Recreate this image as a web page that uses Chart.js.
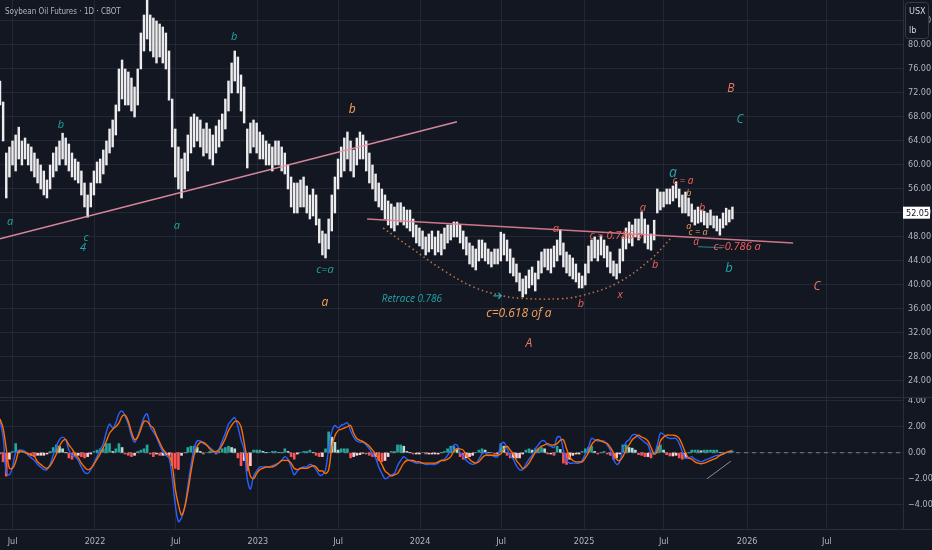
<!DOCTYPE html>
<html>
<head>
<meta charset="utf-8">
<script src="https://cdn.jsdelivr.net/npm/chart.js@4.4.1/dist/chart.umd.min.js"></script>
<style>
  html, body { margin: 0; padding: 0; background: #131722; }
  #wrap { position: relative; width: 932px; height: 550px; }
  #priceBox { position: absolute; left: 0; top: 0; width: 932px; height: 397px; }
  #macdBox { position: absolute; left: 0; top: 397px; width: 932px; height: 153px; }
</style>
</head>
<body>
<div id="wrap">
  <div id="priceBox"><canvas id="priceChart"></canvas></div>
  <div id="macdBox"><canvas id="macdChart"></canvas></div>
</div>
<script>
// ===== DATA (weekly ranges, week 0 = early Jun 2021) =====
const weekLow = [
  70, 64, 54.5, 58, 60, 59, 61, 60, 61, 60,
  59, 58, 57, 56, 55, 54.5, 56, 58, 59, 60,
  61, 60, 59, 58, 57.5, 57, 55, 53, 51.3, 53,
  55, 57, 57, 58.5, 60, 62, 63, 65, 69, 71,
  70, 70, 69, 68, 70, 76, 79, 81, 79, 78,
  77, 78, 77, 76, 70.8, 63, 58, 56, 54.5, 56,
  59, 62, 63, 64, 63, 61.5, 62, 61, 60, 62,
  63, 64, 66, 69, 72, 74, 72, 69, 67, 59.5,
  62, 63, 62, 61, 61, 60, 60, 59, 60, 60,
  59, 58.5, 56, 53, 52, 52, 53, 53, 52, 51,
  51.5, 50, 47, 45, 44.5, 46, 49, 52, 56, 58,
  59, 61, 59, 58, 60, 61, 61, 59, 57, 56,
  54, 53, 52.5, 51, 50, 49.5, 49, 50, 50.5, 50,
  49.5, 49, 48, 47, 46.5, 46, 45, 45.5, 46, 45,
  45.5, 45, 46, 47, 47.5, 48, 48, 47, 46, 45,
  43.5, 43, 42.5, 44, 44.5, 44, 43.5, 43, 43.5, 43.5,
  44, 45, 44, 42, 41.5, 40.5, 39, 38, 38.5, 39.5,
  40, 39, 41, 42, 43, 42.5, 42, 43, 44, 45,
  43, 42, 41.5, 41, 40.5, 39.5, 39.5, 40, 42, 44,
  44.5, 44, 45, 44.5, 43, 42, 41.5, 41, 42, 44,
  46, 47, 46.5, 48, 47.5, 48.5, 47, 46, 45.8, 47.5,
  52, 52.5, 53, 53.5, 53.5, 54, 54.5, 53, 52, 52,
  51.5, 50.5, 50, 50.3, 50.5, 50, 49.5, 50, 49.5, 49,
  48.3, 49.5, 50, 50.5, 51
];
const weekHigh = [
  74, 70.5, 62, 63, 64, 65, 66.3, 64, 64.5, 63.5,
  63, 62, 61, 60, 59, 57.5, 60, 62, 63, 64,
  65.3, 64.5, 63.5, 62, 61, 60.5, 59, 57, 55, 57,
  59, 60.5, 61, 62.5, 64, 66, 67.5, 70, 76, 77.5,
  76, 75.5, 74.5, 73, 76, 82, 85, 89, 85, 84.5,
  84, 83.5, 83, 82, 79, 71, 66, 63, 61, 62,
  65, 68, 68.5, 68, 67.5, 66, 67, 66, 65, 66.5,
  67.5, 68.5, 71, 74, 77, 79, 78, 75, 73, 66,
  67, 67.5, 67, 65.5, 65, 64, 63.5, 63, 64, 64,
  63, 62, 60, 58, 57, 57, 57.5, 58, 56.5, 55,
  56, 55, 51, 49, 48.5, 51, 55, 58, 61, 63,
  64.5, 65.5, 64, 62.5, 64.5, 65.5, 65, 64, 62, 60,
  58.5, 57, 56, 55, 54, 53.5, 53, 53.7, 53.7, 53,
  52.5, 52.5, 51, 50, 49.5, 49, 48, 48.5, 49, 48,
  49, 48.5, 49.5, 50, 50, 50.5, 50.5, 50, 49, 48,
  47, 46.5, 46, 47.5, 47.5, 47, 46, 45.5, 46, 46,
  48.8, 48.5, 47.5, 46, 44.5, 43.5, 42, 41, 41.5, 42.5,
  43, 42, 44, 45.5, 46, 46, 46, 46.5, 47.5, 49.2,
  47, 45.5, 45, 44.5, 43.5, 42, 41.5, 43.5, 46.5, 47.5,
  48, 47.5, 48.2, 47.5, 46.5, 45.5, 44, 43.5, 46, 48,
  49.5, 50.5, 50, 51, 51, 52.2, 51, 50, 48.5, 50.8,
  56, 55.5, 55.5, 56, 56, 56.5, 57.2, 56, 55, 55.5,
  54.5, 53.5, 52.5, 53, 52.5, 52.3, 52, 52.5, 51.5, 51.5,
  51, 52, 52.8, 52.5, 53
];
const lastPrice = 52.05;

// MACD (blue) and signal (orange), weekly readings
const macdLine = [
  2.5, 1.2, -1.5, -1.7, -1.1, 0.0, 0.2, 0.2, 0.1, -0.2,
  -0.4, -0.6, -0.9, -1.1, -1.3, -1.3, -0.9, -0.2, 0.5, 1.0,
  1.2, 1.0, 0.2, -0.2, -0.3, -0.6, -1.1, -1.5, -1.6, -1.3,
  -0.8, -0.3, 0.2, 0.7, 1.6, 2.2, 1.9, 2.3, 3.0, 3.2,
  2.8, 2.2, 1.3, 0.8, 1.3, 2.0, 2.7, 3.0, 2.0, 1.6,
  1.2, 0.6, 0.1, -0.2, -0.4, -1.9, -4.0, -5.3, -5.0, -4.2,
  -2.6, -1.0, 0.3, 0.9, 0.9, 0.7, 0.6, 0.4, 0.2, 0.0,
  0.3, 0.9, 1.5, 2.2, 2.5, 2.7, 2.0, 1.0, 0.2, -2.0,
  -2.8, -1.8, -1.4, -1.1, -1.1, -1.1, -1.1, -1.0, -0.9, -0.8,
  -0.6, -0.3, -0.5, -1.1, -1.7, -1.4, -1.2, -1.1, -1.1, -0.9,
  -1.0, -1.3, -1.7, -1.7, -1.3, 0.3, 1.6, 2.1, 1.9, 2.1,
  2.2, 2.3, 1.7, 1.2, 0.9, 0.8, 0.8, 0.6, 0.3, -0.1,
  -0.4, -1.1, -1.6, -2.0, -1.9, -1.7, -1.6, -1.0, -0.6, -0.3,
  -0.5, -0.6, -0.7, -0.8, -0.8, -0.8, -0.9, -0.9, -0.9, -0.9,
  -0.8, -0.6, -0.5, -0.2, 0.2, 0.6, 0.6, 0.0, -0.3, -0.6,
  -0.8, -0.9, -0.8, -0.5, -0.1, 0.0, -0.2, -0.2, -0.3, -0.3,
  0.6, 0.8, 0.3, -0.2, -0.5, -1.0, -1.3, -1.3, -0.9, -0.5,
  -0.2, 0.3, 0.6, 0.9, 0.9, 0.6, 0.5, 0.4, 1.2, 1.2,
  0.2, -0.6, -0.8, -0.8, -0.8, -0.8, -0.6, -0.1, 0.4, 1.1,
  1.0, 0.9, 0.9, 0.9, 0.6, 0.2, -0.5, -0.9, -0.7, 0.3,
  0.8, 1.0, 1.35, 1.4, 1.2, 1.0, 0.8, 0.6, 0.0, -0.1,
  0.6, 1.5, 1.4, 1.2, 1.1, 1.1, 1.1, 0.7, 0.1, -0.4,
  -0.4, -0.3, -0.5, -0.6, -0.7, -0.6, -0.5, -0.4, -0.3, -0.2,
  -0.2, -0.1, 0.0, 0.1, 0.2
];
const signalLine = [
  2.6, 1.9, 0.3, -1.2, -1.2, -0.7, 0.1, 0.1, 0.0, -0.1,
  -0.2, -0.3, -0.7, -0.9, -1.1, -1.2, -1.0, -0.6, -0.1, 0.5,
  0.9, 1.0, 0.6, 0.3, -0.1, -0.4, -0.8, -1.1, -1.3, -1.2,
  -0.9, -0.5, -0.1, 0.4, 0.9, 1.5, 1.8, 2.0, 2.3, 2.8,
  2.9, 2.4, 1.6, 1.0, 1.2, 1.8, 2.4, 2.4, 2.1, 1.9,
  1.3, 0.8, 0.3, 0.0, -0.2, -0.9, -2.8, -4.0, -4.8, -4.2,
  -3.0, -1.5, -0.2, 0.5, 0.8, 0.8, 0.6, 0.3, 0.1, 0.1,
  0.2, 0.6, 1.1, 1.7, 2.1, 2.4, 2.4, 2.0, 0.8, -0.6,
  -1.8, -2.0, -1.6, -1.3, -1.2, -1.1, -1.1, -1.1, -1.0, -0.8,
  -0.6, -0.6, -0.6, -0.8, -1.2, -1.3, -1.2, -1.2, -1.2, -1.1,
  -1.0, -1.1, -1.4, -1.4, -1.6, -1.3, 0.4, 1.3, 1.7, 1.8,
  1.9, 2.0, 2.1, 1.5, 1.1, 0.95, 0.85, 0.7, 0.5, 0.2,
  -0.1, -0.5, -0.9, -1.4, -1.6, -1.8, -1.7, -1.6, -1.2, -0.8,
  -0.6, -0.6, -0.6, -0.7, -0.7, -0.8, -0.8, -0.8, -0.8, -0.8,
  -0.7, -0.6, -0.6, -0.5, -0.3, 0.1, 0.3, 0.3, 0.2, -0.2,
  -0.5, -0.7, -0.8, -0.7, -0.4, -0.2, -0.2, -0.2, -0.2, -0.2,
  -0.1, 0.3, 0.5, 0.2, -0.1, -0.6, -0.9, -1.2, -1.1, -0.8,
  -0.4, 0.0, 0.3, 0.5, 0.6, 0.7, 0.6, 0.6, 0.7, 0.95,
  1.0, 0.3, -0.3, -0.6, -0.7, -0.7, -0.7, -0.4, 0.0, 0.6,
  0.9, 1.0, 0.9, 0.8, 0.7, 0.4, 0.0, -0.5, -0.6, -0.3,
  0.2, 0.6, 1.0, 1.2, 1.35, 1.2, 1.1, 0.9, 0.4, -0.1,
  0.1, 0.9, 1.2, 1.35, 1.35, 1.35, 1.3, 1.1, 0.6, 0.0,
  -0.4, -0.5, -0.7, -0.8, -0.85, -0.8, -0.7, -0.6, -0.5, -0.4,
  -0.2, -0.1, 0.0, 0.1, 0.1
];

// axis ticks (week positions of the date labels)
const tickWeeks = [4.0, 30.35, 56.2, 82.4, 108.0, 134.2, 160.1, 186.6, 212.1, 238.7, 264.2];
const tickLabels = ['Jul', '2022', 'Jul', '2023', 'Jul', '2024', 'Jul', '2025', 'Jul', '2026', 'Jul'];
const priceTicks = [24, 28, 32, 36, 40, 44, 48, 52, 56, 60, 64, 68, 72, 76, 80, 84];
const macdTicks = [-4, -2, 0, 2, 4];

// drawings in (week, price)
const trendLine = [[0, 47.7], [146, 67.2]];
const neckLine = [[117.3, 51.0], [253.4, 47.0]];
const bowlCurve = [[122.4, 49.5], [131, 46.3], [141.5, 42.5], [151.1, 39.7], [159.7, 38.3], [166.1, 37.8],
  [178.9, 37.7], [186.3, 38.3], [197.1, 40.3], [207.7, 44.2], [214.7, 48.0]];
const shortLine = [[223.0, 46.4], [230.7, 46.2]];
const macdSketch = [[225.9, -2.0], [233.5, -0.65]];
const arrowAt = [159.2, 38.2];

// wave labels: text, week, price, colour, size
const waveLabels = [
  ['a', 3.2, 50.5, 'teal', 11], ['b', 19.5, 66.7, 'teal', 11], ['c', 27.5, 47.8, 'teal', 11],
  ['4', 26.5, 46.2, 'teal', 11], ['a', 56.5, 49.8, 'teal', 11], ['b', 74.8, 81.3, 'teal', 11],
  ['c=a', 103.8, 42.5, 'teal', 11], ['b', 112.5, 69.2, 'orange', 12], ['a', 103.8, 37.0, 'orange', 12],
  ['Retrace 0.786', 131.6, 37.7, 'teal', 10], ['c=0.618 of a', 165.8, 35.2, 'orange', 12],
  ['A', 169.0, 30.2, 'salmon', 12], ['a', 177.6, 49.3, 'red', 11], ['b', 185.6, 36.8, 'red', 11],
  ['x', 198.1, 38.3, 'red', 11], ['c = 0.786 a', 196.8, 48.2, 'red', 11], ['a', 205.4, 52.8, 'red', 11],
  ['b', 209.3, 43.3, 'red', 11], ['a', 215.0, 58.7, 'teal', 14], ['c = a', 218.2, 57.3, 'red', 10],
  ['b', 220.1, 55.3, 'orange', 9], ['b', 224.3, 52.8, 'red', 11], ['a', 220.1, 49.8, 'orange', 9],
  ['c = a', 223.0, 48.7, 'orange', 9], ['a', 222.4, 47.2, 'red', 10], ['c=0.786 a', 235.5, 46.3, 'red', 11],
  ['b', 232.9, 42.8, 'teal', 13], ['B', 233.5, 72.7, 'salmon', 12], ['C', 236.4, 67.5, 'teal', 12],
  ['C', 261.0, 39.7, 'salmon', 12]
];

const BG = '#131722';
const GRID = 'rgba(42, 46, 57, 0.75)';
const EDGE = '#2a2e39';
const TXT = '#b2b5be';
const AXIS_FONT = { family: "'Liberation Sans Narrow', 'DejaVu Sans Condensed', 'Roboto', sans-serif", size: 9 };
const PALETTE = { teal: '#22a4a6', orange: '#f6a25c', red: '#f0645c', salmon: '#ea7866' };
const X_MAX = 288.5;

const toXY = pts => pts.map(([x, y]) => ({ x, y }));
const noPad = s => { s.paddingTop = 0; s.paddingBottom = 0; s.paddingLeft = 0; s.paddingRight = 0; };

function timeAxis(showLabels) {
  return {
    type: 'linear', min: 0, max: X_MAX, offset: false,
    grid: { color: GRID, drawTicks: false, offset: false },
    border: { display: false },
    afterBuildTicks: s => { s.ticks = tickWeeks.map(v => ({ value: v })); },
    ticks: {
      display: showLabels, autoSkip: false, maxRotation: 0, padding: 7,
      color: TXT, font: AXIS_FONT, callback: (v, i) => tickLabels[i]
    },
    afterFit: s => { s.height = showLabels ? 21 : 0; noPad(s); }
  };
}

function priceAxis(min, max, ticks, fmt) {
  return {
    position: 'right', min, max,
    afterBuildTicks: s => { s.ticks = ticks.map(v => ({ value: v })); },
    ticks: { color: TXT, font: AXIS_FONT, padding: 5, callback: fmt },
    grid: { color: GRID, drawTicks: false },
    border: { display: true, color: EDGE },
    afterFit: s => { s.width = 29; noPad(s); }
  };
}

// ===== PRICE PANEL =====
const pricePainter = {
  id: 'pricePainter',
  afterDatasetsDraw(chart) {
    const { ctx, scales: { x, y } } = chart;
    ctx.save();
    ctx.textAlign = 'center';
    ctx.textBaseline = 'middle';
    waveLabels.forEach(([t, w, p, c, s]) => {
      ctx.font = `italic ${s}px 'Open Sans', sans-serif`;
      ctx.fillStyle = PALETTE[c];
      ctx.fillText(t, x.getPixelForValue(w), y.getPixelForValue(p));
    });
    // small arrow next to the bowl bottom
    const ax = x.getPixelForValue(arrowAt[0]), ay = y.getPixelForValue(arrowAt[1]);
    ctx.strokeStyle = PALETTE.teal;
    ctx.lineWidth = 1.3;
    ctx.beginPath();
    ctx.moveTo(ax - 5, ay); ctx.lineTo(ax + 3, ay);
    ctx.moveTo(ax, ay - 3); ctx.lineTo(ax + 3, ay); ctx.lineTo(ax, ay + 3);
    ctx.stroke();
    // title
    ctx.textAlign = 'left';
    ctx.font = "8px 'DejaVu Sans Condensed', 'Roboto', sans-serif";
    ctx.fillStyle = TXT;
    ctx.fillText('Soybean Oil Futures · 1D · CBOT', 5, 12);
    ctx.restore();
  },
  afterDraw(chart) {
    const { ctx, scales: { y } } = chart;
    ctx.save();
    // currency / unit box
    ctx.fillStyle = BG;
    ctx.strokeStyle = '#363a45';
    ctx.lineWidth = 1;
    ctx.beginPath();
    ctx.roundRect(905.5, 2.5, 23, 36, 3);
    ctx.fill(); ctx.stroke();
    ctx.fillStyle = '#d1d4dc';
    ctx.font = "9px 'Liberation Sans Narrow', 'DejaVu Sans Condensed', 'Roboto', sans-serif";
    ctx.textBaseline = 'middle';
    ctx.textAlign = 'left';
    ctx.fillText('USX', 909, 12);
    ctx.fillText('lb', 909, 31);
    // last price label
    const py = y.getPixelForValue(lastPrice);
    ctx.fillStyle = '#ffffff';
    ctx.fillRect(903, py - 6, 27, 12);
    ctx.fillStyle = '#131722';
    ctx.fillText(lastPrice.toFixed(2), 906, py + 0.5);
    ctx.restore();
  }
};

new Chart(document.getElementById('priceChart').getContext('2d'), {
  type: 'bar',
  data: {
    datasets: [
      { type: 'line', data: toXY(trendLine), borderColor: 'rgba(236, 146, 166, 0.9)', borderWidth: 1.4, pointRadius: 0 },
      { type: 'line', data: toXY(neckLine), borderColor: 'rgba(226, 130, 150, 0.9)', borderWidth: 1.4, pointRadius: 0 },
      { type: 'line', data: toXY(shortLine), borderColor: '#2c6e70', borderWidth: 1.2, pointRadius: 0 },
      { type: 'line', data: toXY(bowlCurve), borderColor: '#b8704c', borderWidth: 1.6, borderDash: [1.5, 3],
        pointRadius: 0, tension: 0.4 },
      {
        label: 'Soybean Oil',
        data: weekLow.map((lo, i) => ({ x: i, y: [lo, weekHigh[i]] })),
        backgroundColor: '#ececee',
        borderWidth: 0,
        barThickness: 1.8,
        grouped: false
      }
    ]
  },
  options: {
    responsive: true,
    maintainAspectRatio: false,
    animation: false,
    layout: { padding: 0 },
    scales: {
      x: timeAxis(false),
      y: priceAxis(21.33, 87.5, priceTicks, v => v.toFixed(2))
    },
    plugins: { legend: { display: false }, tooltip: { enabled: false } }
  },
  plugins: [pricePainter]
});

// ===== MACD PANEL =====
const hist = macdLine.map((m, i) => +(m - signalLine[i]).toFixed(2));
const histColors = hist.map((h, i) => {
  const prev = i ? hist[i - 1] : 0;
  if (h >= 0) return h >= prev ? '#26a69a' : '#b2dfdb';
  return h >= prev ? '#ffcdd2' : '#ff5252';
});

const macdPainter = {
  id: 'macdPainter',
  afterDraw(chart) {
    const { ctx, chartArea } = chart;
    ctx.save();
    ctx.strokeStyle = EDGE;
    ctx.lineWidth = 1;
    ctx.beginPath();
    ctx.moveTo(0, 0.5); ctx.lineTo(932, 0.5);
    ctx.moveTo(0, chartArea.bottom + 0.5); ctx.lineTo(932, chartArea.bottom + 0.5);
    ctx.stroke();
    ctx.restore();
  }
};

new Chart(document.getElementById('macdChart').getContext('2d'), {
  type: 'bar',
  data: {
    datasets: [
      { type: 'line', label: 'Signal', data: signalLine.map((v, i) => ({ x: i, y: v })),
        borderColor: '#ff6d00', borderWidth: 1.4, pointRadius: 0, tension: 0.35 },
      { type: 'line', label: 'MACD', data: macdLine.map((v, i) => ({ x: i, y: v })),
        borderColor: '#2962ff', borderWidth: 1.4, pointRadius: 0, tension: 0.35 },
      { type: 'line', data: toXY(macdSketch), borderColor: '#8a8d96', borderWidth: 1, pointRadius: 0 },
      { label: 'Histogram', data: hist.map((v, i) => ({ x: i, y: v })),
        backgroundColor: histColors, borderWidth: 0, barThickness: 2, grouped: false },
      { type: 'line', data: [{ x: 0, y: 0 }, { x: X_MAX, y: 0 }], borderColor: '#787b86',
        borderWidth: 1, borderDash: [4, 4], pointRadius: 0 }
    ]
  },
  options: {
    responsive: true,
    maintainAspectRatio: false,
    animation: false,
    layout: { padding: { top: 1 } },
    scales: {
      x: timeAxis(true),
      y: priceAxis(-5.87, 4.21, macdTicks, v => (v < 0 ? '\u2212' : '') + Math.abs(v).toFixed(2))
    },
    plugins: { legend: { display: false }, tooltip: { enabled: false } }
  },
  plugins: [macdPainter]
});
</script>
</body>
</html>
